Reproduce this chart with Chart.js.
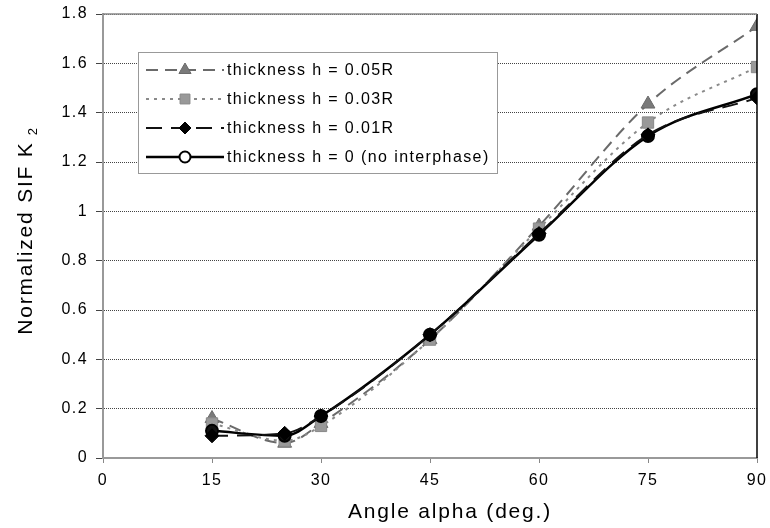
<!DOCTYPE html>
<html>
<head>
<meta charset="utf-8">
<script src="https://cdn.jsdelivr.net/npm/chart.js@4/dist/chart.umd.min.js"></script>
<style>
html,body{margin:0;padding:0;background:#fff;}
#wrap{width:770px;height:528px;position:relative;}
</style>
</head>
<body>
<div id="wrap"><canvas id="c" width="770" height="528"></canvas></div>
<script>
const angles = [15, 25, 30, 45, 60, 75, 90];
const h005 = [0.16, 0.06, 0.14, 0.48, 0.94, 1.435, 1.75];
const h003 = [0.14, 0.07, 0.13, 0.48, 0.93, 1.36, 1.585];
const h001 = [0.09, 0.10, 0.17, 0.50, 0.91, 1.31, 1.46];
const h000 = [0.11, 0.09, 0.17, 0.50, 0.905, 1.305, 1.475];
const seriesLabels = ['thickness h = 0.05R', 'thickness h = 0.03R', 'thickness h = 0.01R', 'thickness h = 0 (no interphase)'];
const yTicks = [0, 0.2, 0.4, 0.6, 0.8, 1, 1.2, 1.4, 1.6, 1.8];
const xTicks = [0, 15, 30, 45, 60, 75, 90];
const xTitle = 'Angle alpha (deg.)';
const yTitle = 'Normalized SIF K';
const ySub = '2';

const FONT = '"Liberation Sans", Arial, sans-serif';
const SPACING = '1.4px';
const pts = arr => angles.map((a, i) => ({x: a, y: arr[i]}));

const datasets = [
  {label: seriesLabels[0], data: pts(h005), borderColor: '#6a6a6a', borderWidth: 2, borderDash: [12, 7],
   pointStyle: 'triangle', pointRadius: 8, pointBackgroundColor: '#7a7a7a', pointBorderColor: '#6a6a6a', pointBorderWidth: 1, order: 4},
  {label: seriesLabels[1], data: pts(h003), borderColor: '#8a8a8a', borderWidth: 2, borderDash: [3, 5],
   pointStyle: 'rect', pointRadius: 8, pointBackgroundColor: '#999999', pointBorderColor: '#888888', pointBorderWidth: 1, order: 3},
  {label: seriesLabels[2], data: pts(h001), borderColor: '#111111', borderWidth: 2, borderDash: [16, 9],
   pointStyle: 'rectRot', pointRadius: 7, pointBackgroundColor: '#000000', pointBorderColor: '#000000', pointBorderWidth: 1, order: 1},
  {label: seriesLabels[3], data: pts(h000), borderColor: '#000000', borderWidth: 2.5, borderDash: [],
   pointStyle: 'circle', pointRadius: 6, pointBackgroundColor: '#111111', pointBorderColor: '#000000', pointBorderWidth: 2, order: 2}
];
datasets.forEach(d => { d.tension = 0.4; d.cubicInterpolationMode = 'monotone'; d.fill = false; });

const spacingPlugin = {
  id: 'spacing',
  beforeInit(chart) { chart.ctx.letterSpacing = SPACING; },
  beforeDraw(chart) { chart.ctx.letterSpacing = SPACING; }
};

const legendPlugin = {
  id: 'boxLegend',
  afterDatasetsDraw(chart) {
    const ctx = chart.ctx;
    const L = 138, T = 52, R = 497, B = 173;
    ctx.save();
    ctx.fillStyle = '#fff';
    ctx.fillRect(L, T, R - L, B - T);
    ctx.strokeStyle = '#333';
    ctx.lineWidth = 1;
    ctx.setLineDash([1, 1]);
    ctx.strokeRect(L + 0.5, T + 0.5, R - L, B - T);
    const rows = [70, 99, 128, 157];
    datasets.forEach((d, i) => {
      const y = rows[i];
      ctx.setLineDash(d.borderDash);
      ctx.strokeStyle = d.borderColor;
      ctx.lineWidth = d.borderWidth;
      ctx.beginPath();
      ctx.moveTo(146, y);
      ctx.lineTo(224, y);
      ctx.stroke();
      ctx.setLineDash([]);
      ctx.fillStyle = i === 3 ? '#ffffff' : d.pointBackgroundColor;
      ctx.strokeStyle = d.pointBorderColor;
      ctx.lineWidth = d.pointBorderWidth;
      Chart.helpers.drawPoint(ctx, {pointStyle: d.pointStyle, radius: i === 3 ? 5.5 : d.pointRadius - 1, rotation: 0, borderWidth: d.pointBorderWidth}, 185, y);
      ctx.fillStyle = '#000';
      ctx.font = '16px ' + FONT;
      ctx.letterSpacing = SPACING;
      ctx.textBaseline = 'middle';
      ctx.textAlign = 'left';
      ctx.fillText(d.label, 227, y + 1);
    });
    ctx.restore();
  },
  afterDraw(chart) {
    const {ctx, chartArea: a} = chart;
    ctx.save();
    ctx.strokeStyle = '#000';
    ctx.lineWidth = 1.5;
    ctx.beginPath();
    ctx.moveTo(a.right, a.top);
    ctx.lineTo(a.right, a.bottom);
    ctx.stroke();
    ctx.strokeStyle = '#888';
    ctx.lineWidth = 1.5;
    ctx.beginPath();
    ctx.moveTo(a.left, a.top);
    ctx.lineTo(a.right, a.top);
    ctx.stroke();
    // axis titles
    ctx.fillStyle = '#000';
    ctx.letterSpacing = '1.8px';
    ctx.font = '21px ' + FONT;
    ctx.textAlign = 'center';
    ctx.textBaseline = 'alphabetic';
    ctx.fillText(xTitle, 450, 518);
    ctx.translate(32, 229);
    ctx.rotate(-Math.PI / 2);
    const w = ctx.measureText(yTitle).width;
    const ws = 18;
    const x0 = -(w + ws) / 2;
    ctx.textAlign = 'left';
    ctx.fillText(yTitle, x0, 0);
    ctx.font = '13px ' + FONT;
    ctx.fillText(ySub, x0 + w + 6, 5);
    ctx.restore();
  }
};

new Chart(document.getElementById('c'), {
  type: 'line',
  data: {datasets},
  plugins: [spacingPlugin, legendPlugin],
  options: {
    responsive: false,
    animation: false,
    layout: {padding: {top: 14, right: 13, left: 0, bottom: 0}},
    plugins: {legend: {display: false}, tooltip: {enabled: false}},
    scales: {
      x: {
        type: 'linear', min: 0, max: 90,
        afterBuildTicks: s => { s.ticks = xTicks.map(v => ({value: v})); },
        afterFit: s => { s.height = 70; s.paddingRight = 0; s.paddingLeft = 0; },
        grid: {display: true, drawOnChartArea: false, drawTicks: true, tickLength: 5, color: '#888'},
        border: {display: true, color: '#999', width: 2},
        ticks: {color: '#000', font: {family: FONT, size: 16}, padding: 8, maxRotation: 0, callback: v => String(v)}
      },
      y: {
        type: 'linear', min: 0, max: 1.8,
        afterBuildTicks: s => { s.ticks = yTicks.map(v => ({value: v})); },
        afterFit: s => { s.width = 103; s.paddingTop = 0; s.paddingBottom = 0; },
        grid: {display: true, drawTicks: true, tickLength: 7, color: '#444', lineWidth: 1, tickColor: '#444'},
        border: {display: true, color: '#999', width: 2, dash: [1, 1]},
        ticks: {color: '#000', font: {family: FONT, size: 16}, padding: 8, callback: v => String(Math.round(v * 10) / 10)}
      }
    }
  }
});
</script>
</body>
</html>
